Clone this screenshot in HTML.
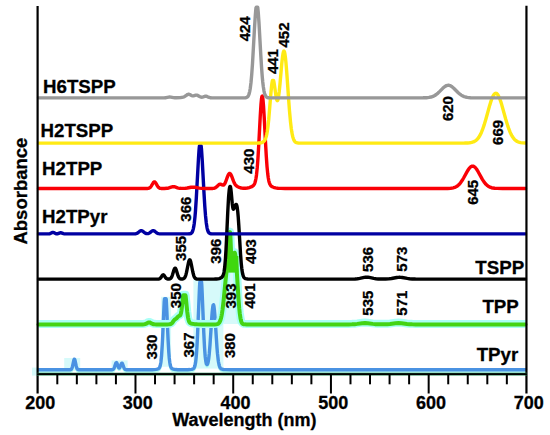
<!DOCTYPE html>
<html><head><meta charset="utf-8"><style>
html,body{margin:0;padding:0;background:#fff;width:550px;height:435px;overflow:hidden}
svg{position:absolute;left:0;top:0}
text{font-family:"Liberation Sans",sans-serif;font-weight:bold;fill:#000;stroke:#000;stroke-width:0.3px}
.tl{font-size:18px}
.pl{font-size:15px}
.nl{font-size:18.7px}
.ax{font-size:18px}
</style></head><body>
<svg width="550" height="435" viewBox="0 0 550 435">
<rect x="161.1" y="296.8" width="10.0" height="70.0" fill="#d6fafa"/>
<rect x="193.4" y="279.6" width="30.0" height="89.0" fill="#d6fafa"/>
<rect x="223.4" y="262.0" width="18.0" height="62.0" fill="#d6fafa"/>
<rect x="111.6" y="360.4" width="16.0" height="9.0" fill="#d6fafa"/>
<rect x="64.2" y="358.0" width="16.0" height="13.0" fill="#d6fafa"/>
<rect x="32.0" y="367.6" width="7.0" height="8.0" fill="#d6fafa"/>
<path d="M38.50 369.75 L69.00 369.75 L70.00 369.73 L70.75 369.60 L71.25 369.31 L71.50 369.03 L72.00 368.07 L72.50 366.41 L73.75 360.49 L74.00 359.68 L74.25 359.23 L74.50 359.18 L74.75 359.56 L75.00 360.30 L76.25 366.20 L76.75 367.94 L77.00 368.53 L77.50 369.26 L78.00 369.58 L78.50 369.70 L80.00 369.75 L110.00 369.75 L112.25 369.69 L113.00 369.45 L113.50 369.03 L113.75 368.70 L114.00 368.27 L114.50 367.08 L115.75 363.34 L116.00 362.86 L116.25 362.59 L116.50 362.57 L116.75 362.78 L117.00 363.22 L118.00 366.08 L118.50 367.33 L118.75 367.73 L119.00 367.97 L119.25 368.01 L119.50 367.88 L119.75 367.56 L120.25 366.50 L121.25 363.86 L121.50 363.43 L121.75 363.19 L122.00 363.17 L122.25 363.37 L122.50 363.77 L123.75 367.17 L124.25 368.30 L124.50 368.72 L124.75 369.04 L125.25 369.45 L126.00 369.68 L128.00 369.75 L152.25 369.71 L154.25 369.60 L156.00 369.39 L157.25 369.13 L158.25 368.76 L159.00 368.21 L159.50 367.53 L160.00 366.36 L160.25 365.49 L160.75 362.96 L161.00 361.17 L161.50 356.27 L162.25 345.00 L162.75 334.87 L164.00 306.02 L164.25 301.09 L164.50 298.70 L166.00 298.70 L166.25 299.32 L166.75 309.26 L168.00 338.10 L168.75 351.62 L169.25 357.94 L169.75 362.29 L170.25 365.08 L170.75 366.78 L171.00 367.34 L171.50 368.10 L172.25 368.71 L173.00 369.02 L173.75 369.23 L176.00 369.57 L177.75 369.68 L180.25 369.74 L187.75 369.68 L189.75 369.57 L191.25 369.41 L192.25 369.21 L193.00 368.94 L193.50 368.60 L193.75 368.35 L194.25 367.61 L194.75 366.36 L195.00 365.46 L195.50 362.89 L195.75 361.12 L196.25 356.37 L196.50 353.30 L197.00 345.61 L197.50 335.82 L199.50 287.62 L199.75 283.02 L200.00 281.60 L201.50 281.60 L201.75 284.67 L202.25 295.12 L203.75 332.19 L204.50 346.85 L204.75 350.68 L205.25 356.74 L205.75 360.86 L206.25 363.35 L206.50 364.07 L206.75 364.49 L207.00 364.62 L207.25 364.49 L207.50 364.11 L207.75 363.46 L208.00 362.55 L208.25 361.37 L208.75 358.15 L209.25 353.69 L210.00 344.70 L211.75 317.94 L212.25 311.50 L212.75 306.93 L213.00 305.53 L213.25 304.79 L213.50 304.73 L213.75 305.35 L214.00 306.64 L214.50 311.03 L215.00 317.37 L217.00 347.74 L217.50 353.67 L218.25 360.32 L218.50 361.97 L219.00 364.54 L219.25 365.51 L219.75 366.95 L220.25 367.89 L220.75 368.49 L221.50 369.00 L222.25 369.26 L223.50 369.48 L225.50 369.64 L231.75 369.75 L525.50 369.75" stroke="#b4fff0" stroke-width="3" fill="none" stroke-linejoin="round" transform="translate(0 1.6)"/>
<path d="M38.50 369.75 L69.00 369.75 L70.00 369.73 L70.75 369.60 L71.25 369.31 L71.50 369.03 L72.00 368.07 L72.50 366.41 L73.75 360.49 L74.00 359.68 L74.25 359.23 L74.50 359.18 L74.75 359.56 L75.00 360.30 L76.25 366.20 L76.75 367.94 L77.00 368.53 L77.50 369.26 L78.00 369.58 L78.50 369.70 L80.00 369.75 L110.00 369.75 L112.25 369.69 L113.00 369.45 L113.50 369.03 L113.75 368.70 L114.00 368.27 L114.50 367.08 L115.75 363.34 L116.00 362.86 L116.25 362.59 L116.50 362.57 L116.75 362.78 L117.00 363.22 L118.00 366.08 L118.50 367.33 L118.75 367.73 L119.00 367.97 L119.25 368.01 L119.50 367.88 L119.75 367.56 L120.25 366.50 L121.25 363.86 L121.50 363.43 L121.75 363.19 L122.00 363.17 L122.25 363.37 L122.50 363.77 L123.75 367.17 L124.25 368.30 L124.50 368.72 L124.75 369.04 L125.25 369.45 L126.00 369.68 L128.00 369.75 L152.25 369.71 L154.25 369.60 L156.00 369.39 L157.25 369.13 L158.25 368.76 L159.00 368.21 L159.50 367.53 L160.00 366.36 L160.25 365.49 L160.75 362.96 L161.00 361.17 L161.50 356.27 L162.25 345.00 L162.75 334.87 L164.00 306.02 L164.25 301.09 L164.50 298.70 L166.00 298.70 L166.25 299.32 L166.75 309.26 L168.00 338.10 L168.75 351.62 L169.25 357.94 L169.75 362.29 L170.25 365.08 L170.75 366.78 L171.00 367.34 L171.50 368.10 L172.25 368.71 L173.00 369.02 L173.75 369.23 L176.00 369.57 L177.75 369.68 L180.25 369.74 L187.75 369.68 L189.75 369.57 L191.25 369.41 L192.25 369.21 L193.00 368.94 L193.50 368.60 L193.75 368.35 L194.25 367.61 L194.75 366.36 L195.00 365.46 L195.50 362.89 L195.75 361.12 L196.25 356.37 L196.50 353.30 L197.00 345.61 L197.50 335.82 L199.50 287.62 L199.75 283.02 L200.00 281.60 L201.50 281.60 L201.75 284.67 L202.25 295.12 L203.75 332.19 L204.50 346.85 L204.75 350.68 L205.25 356.74 L205.75 360.86 L206.25 363.35 L206.50 364.07 L206.75 364.49 L207.00 364.62 L207.25 364.49 L207.50 364.11 L207.75 363.46 L208.00 362.55 L208.25 361.37 L208.75 358.15 L209.25 353.69 L210.00 344.70 L211.75 317.94 L212.25 311.50 L212.75 306.93 L213.00 305.53 L213.25 304.79 L213.50 304.73 L213.75 305.35 L214.00 306.64 L214.50 311.03 L215.00 317.37 L217.00 347.74 L217.50 353.67 L218.25 360.32 L218.50 361.97 L219.00 364.54 L219.25 365.51 L219.75 366.95 L220.25 367.89 L220.75 368.49 L221.50 369.00 L222.25 369.26 L223.50 369.48 L225.50 369.64 L231.75 369.75 L525.50 369.75" stroke="#4a92e2" stroke-width="3.4" fill="none" stroke-linejoin="round" stroke-linecap="round"/>
<path d="M38.50 324.40 L142.75 324.39 L144.25 324.31 L145.25 324.12 L146.25 323.73 L148.25 322.61 L148.75 322.45 L149.25 322.40 L149.75 322.47 L150.25 322.66 L152.00 323.65 L152.75 323.99 L153.50 324.20 L154.50 324.34 L156.50 324.40 L167.25 324.39 L169.00 324.36 L170.00 324.25 L170.50 324.13 L171.00 323.91 L171.75 323.36 L172.50 322.50 L173.75 320.69 L174.50 319.80 L175.00 319.38 L176.00 318.77 L176.50 318.39 L178.00 316.69 L178.50 316.24 L179.00 315.98 L179.75 315.70 L180.00 315.52 L180.25 315.21 L180.50 314.72 L181.00 313.07 L181.50 310.30 L182.00 306.42 L183.00 296.89 L183.25 295.30 L185.50 295.30 L185.75 296.83 L187.25 311.99 L188.00 317.37 L188.50 319.75 L189.00 321.33 L189.50 322.31 L190.00 322.90 L190.75 323.38 L191.50 323.64 L192.25 323.81 L194.50 324.14 L197.25 324.33 L201.75 324.40 L214.50 324.39 L216.50 324.27 L217.25 324.11 L217.75 323.94 L218.50 323.48 L219.25 322.68 L220.00 321.34 L220.50 320.03 L221.00 318.30 L221.50 316.09 L222.00 313.32 L222.50 309.98 L223.50 301.57 L225.50 280.94 L226.25 274.02 L227.00 268.78 L228.00 263.95 L228.25 262.15 L228.50 259.42 L228.75 255.41 L229.50 238.01 L229.75 233.67 L230.00 232.14 L230.25 233.94 L230.50 238.66 L231.25 257.47 L231.50 261.48 L231.75 263.72 L232.00 264.45 L232.25 264.09 L232.75 261.57 L233.75 255.19 L234.00 254.02 L234.25 253.18 L234.50 252.76 L234.75 252.80 L235.00 253.35 L235.25 254.43 L235.75 258.17 L236.25 263.85 L236.75 271.01 L238.50 298.96 L239.25 308.41 L239.75 313.24 L240.50 318.36 L240.75 319.58 L241.25 321.41 L241.75 322.62 L242.25 323.39 L242.75 323.84 L243.50 324.19 L244.50 324.35 L246.75 324.40 L348.75 324.38 L352.00 324.31 L354.75 324.15 L357.25 323.88 L362.25 323.16 L365.00 323.00 L367.75 323.16 L372.75 323.88 L375.00 324.13 L377.50 324.29 L380.25 324.36 L384.00 324.33 L387.25 324.18 L390.00 323.92 L395.50 323.25 L398.50 323.10 L401.50 323.25 L407.00 323.92 L409.50 324.16 L412.25 324.31 L415.75 324.38 L525.50 324.40" stroke="#aafff6" stroke-width="8" fill="none" stroke-linejoin="round" transform="translate(0 -0.5)"/>
<path d="M38.50 324.40 L142.75 324.39 L144.25 324.31 L145.25 324.12 L146.25 323.73 L148.25 322.61 L148.75 322.45 L149.25 322.40 L149.75 322.47 L150.25 322.66 L152.00 323.65 L152.75 323.99 L153.50 324.20 L154.50 324.34 L156.50 324.40 L167.25 324.39 L169.00 324.36 L170.00 324.25 L170.50 324.13 L171.00 323.91 L171.75 323.36 L172.50 322.50 L173.75 320.69 L174.50 319.80 L175.00 319.38 L176.00 318.77 L176.50 318.39 L178.00 316.69 L178.50 316.24 L179.00 315.98 L179.75 315.70 L180.00 315.52 L180.25 315.21 L180.50 314.72 L181.00 313.07 L181.50 310.30 L182.00 306.42 L183.00 296.89 L183.25 295.30 L185.50 295.30 L185.75 296.83 L187.25 311.99 L188.00 317.37 L188.50 319.75 L189.00 321.33 L189.50 322.31 L190.00 322.90 L190.75 323.38 L191.50 323.64 L192.25 323.81 L194.50 324.14 L197.25 324.33 L201.75 324.40 L214.50 324.39 L216.50 324.27 L217.25 324.11 L217.75 323.94 L218.50 323.48 L219.25 322.68 L220.00 321.34 L220.50 320.03 L221.00 318.30 L221.50 316.09 L222.00 313.32 L222.50 309.98 L223.50 301.57 L225.50 280.94 L226.25 274.02 L227.00 268.78 L228.00 263.95 L228.25 262.15 L228.50 259.42 L228.75 255.41 L229.50 238.01 L229.75 233.67 L230.00 232.14 L230.25 233.94 L230.50 238.66 L231.25 257.47 L231.50 261.48 L231.75 263.72 L232.00 264.45 L232.25 264.09 L232.75 261.57 L233.75 255.19 L234.00 254.02 L234.25 253.18 L234.50 252.76 L234.75 252.80 L235.00 253.35 L235.25 254.43 L235.75 258.17 L236.25 263.85 L236.75 271.01 L238.50 298.96 L239.25 308.41 L239.75 313.24 L240.50 318.36 L240.75 319.58 L241.25 321.41 L241.75 322.62 L242.25 323.39 L242.75 323.84 L243.50 324.19 L244.50 324.35 L246.75 324.40 L348.75 324.38 L352.00 324.31 L354.75 324.15 L357.25 323.88 L362.25 323.16 L365.00 323.00 L367.75 323.16 L372.75 323.88 L375.00 324.13 L377.50 324.29 L380.25 324.36 L384.00 324.33 L387.25 324.18 L390.00 323.92 L395.50 323.25 L398.50 323.10 L401.50 323.25 L407.00 323.92 L409.50 324.16 L412.25 324.31 L415.75 324.38 L525.50 324.40" stroke="#44d414" stroke-width="4.0" fill="none" stroke-linejoin="round" stroke-linecap="round"/>
<rect x="228.2" y="256" width="10.2" height="16.6" fill="#3fd80e"/>
<path d="M38.50 279.10 L157.75 279.09 L159.00 278.96 L159.50 278.80 L160.00 278.52 L160.75 277.77 L162.00 275.85 L162.50 275.19 L163.00 274.83 L163.25 274.80 L163.50 274.87 L164.00 275.31 L165.50 277.57 L166.00 278.17 L166.50 278.59 L167.00 278.84 L167.50 278.98 L168.25 279.05 L169.00 279.03 L169.75 278.89 L170.50 278.51 L171.00 278.03 L171.50 277.27 L172.00 276.19 L172.50 274.79 L174.00 269.80 L174.50 268.64 L174.75 268.29 L175.00 268.12 L175.25 268.13 L175.50 268.34 L176.00 269.27 L176.50 270.72 L178.00 275.67 L178.50 276.88 L179.00 277.76 L179.50 278.35 L180.25 278.82 L181.25 279.03 L182.50 279.00 L183.00 278.91 L183.50 278.74 L184.25 278.20 L184.75 277.56 L185.00 277.13 L185.50 275.98 L186.00 274.41 L186.50 272.40 L188.50 262.47 L189.00 260.75 L189.25 260.20 L189.50 259.88 L189.75 259.80 L190.00 259.98 L190.25 260.39 L190.75 261.88 L191.25 264.04 L192.75 271.72 L193.25 273.85 L193.75 275.55 L194.25 276.83 L194.75 277.72 L195.25 278.30 L195.75 278.66 L196.25 278.87 L196.75 278.99 L198.25 279.09 L214.50 279.07 L216.50 278.99 L218.00 278.82 L219.25 278.56 L220.50 278.09 L221.50 277.48 L222.25 276.73 L222.75 275.98 L223.25 274.86 L223.75 273.17 L224.00 272.01 L224.50 268.88 L224.75 266.80 L225.50 258.04 L226.00 249.87 L226.50 239.96 L227.75 212.06 L228.50 198.29 L228.75 194.83 L229.25 189.74 L229.50 188.07 L229.75 186.94 L230.00 186.37 L230.25 186.38 L230.50 186.99 L230.75 188.25 L231.25 192.51 L232.25 203.65 L232.75 207.39 L233.00 208.46 L233.25 209.03 L233.50 209.18 L233.75 209.01 L234.25 208.05 L235.25 205.48 L235.75 204.61 L236.00 204.41 L236.25 204.43 L236.50 204.72 L236.75 205.32 L237.00 206.28 L237.25 207.63 L237.75 211.62 L238.25 217.33 L238.75 224.54 L240.50 253.49 L241.25 263.30 L241.75 268.19 L242.00 270.14 L242.50 273.19 L242.75 274.34 L243.25 276.04 L243.75 277.13 L244.25 277.82 L244.75 278.25 L245.50 278.62 L246.50 278.86 L247.75 278.99 L252.00 279.10 L351.75 279.08 L355.00 278.98 L357.50 278.76 L359.75 278.40 L364.25 277.43 L365.50 277.26 L366.75 277.20 L368.00 277.25 L369.25 277.41 L373.75 278.38 L376.00 278.75 L378.25 278.96 L381.25 279.06 L385.50 279.03 L388.75 278.83 L391.50 278.48 L396.75 277.51 L398.25 277.35 L399.50 277.30 L400.75 277.35 L402.25 277.51 L407.25 278.43 L409.50 278.76 L412.25 278.98 L415.50 279.07 L525.50 279.10" stroke="#000000" stroke-width="3.4" fill="none" stroke-linejoin="round" stroke-linecap="round"/>
<path d="M38.50 233.90 L47.50 233.90 L49.00 233.85 L49.75 233.73 L50.25 233.58 L52.25 232.53 L53.00 232.40 L53.75 232.62 L55.50 233.56 L56.00 233.71 L56.75 233.81 L57.50 233.76 L58.00 233.66 L60.00 232.82 L60.75 232.70 L61.50 232.86 L62.75 233.43 L63.50 233.69 L64.25 233.83 L65.50 233.89 L134.00 233.88 L135.75 233.72 L136.50 233.53 L137.00 233.33 L138.00 232.72 L139.75 231.27 L140.25 230.93 L140.75 230.69 L141.25 230.60 L141.75 230.66 L142.50 231.02 L144.50 232.64 L145.25 233.14 L146.00 233.47 L147.00 233.66 L148.00 233.60 L149.00 233.26 L150.00 232.64 L152.00 231.02 L152.75 230.66 L153.25 230.60 L153.75 230.69 L154.25 230.93 L154.75 231.27 L156.50 232.72 L157.50 233.33 L158.50 233.67 L159.75 233.84 L162.50 233.90 L188.00 233.89 L189.75 233.78 L190.50 233.60 L191.00 233.36 L191.75 232.71 L192.25 231.95 L192.75 230.80 L193.25 229.11 L193.75 226.72 L194.25 223.46 L195.00 216.58 L195.50 210.52 L196.25 199.20 L198.50 158.02 L199.00 150.69 L199.25 147.74 L199.50 145.60 L201.00 145.60 L201.25 146.71 L201.50 149.45 L202.25 160.52 L204.00 193.13 L204.75 205.55 L205.50 215.47 L206.25 222.69 L207.00 227.52 L207.25 228.69 L207.75 230.51 L208.25 231.75 L208.75 232.58 L209.00 232.88 L209.50 233.30 L210.25 233.64 L211.00 233.80 L211.75 233.86 L214.50 233.90 L525.50 233.90" stroke="#0000a2" stroke-width="3.4" fill="none" stroke-linejoin="round" stroke-linecap="round"/>
<path d="M38.50 188.50 L147.25 188.47 L148.25 188.37 L149.00 188.18 L149.75 187.79 L150.25 187.39 L150.75 186.83 L151.25 186.13 L153.25 182.74 L153.75 182.18 L154.00 182.01 L154.25 181.92 L154.50 181.91 L155.00 182.14 L155.50 182.68 L156.00 183.43 L157.50 186.05 L158.00 186.77 L158.50 187.34 L159.00 187.76 L159.50 188.05 L160.25 188.31 L161.00 188.43 L164.25 188.48 L167.00 188.32 L168.75 187.96 L172.00 186.89 L172.75 186.74 L173.50 186.70 L174.25 186.77 L175.00 186.94 L177.50 187.79 L178.50 188.07 L179.75 188.30 L181.00 188.41 L183.25 188.42 L185.50 188.26 L187.25 188.00 L191.00 187.26 L193.00 187.10 L194.75 187.23 L199.25 188.09 L201.75 188.37 L206.00 188.49 L211.00 188.49 L212.75 188.44 L214.25 188.20 L215.00 187.93 L215.50 187.67 L216.50 186.92 L218.50 184.98 L219.00 184.59 L219.50 184.33 L220.00 184.21 L220.50 184.23 L221.00 184.38 L222.25 184.95 L223.00 185.12 L223.50 185.03 L224.00 184.71 L224.50 184.13 L224.75 183.75 L225.50 182.23 L227.50 176.70 L228.25 174.89 L228.75 174.03 L229.00 173.72 L229.25 173.52 L229.50 173.41 L229.75 173.40 L230.00 173.49 L230.50 173.96 L231.25 175.28 L231.75 176.47 L233.50 181.15 L234.25 182.85 L234.75 183.80 L235.25 184.58 L236.00 185.48 L236.50 185.93 L237.25 186.46 L238.50 187.11 L240.25 187.76 L241.75 188.12 L243.25 188.28 L245.25 188.24 L247.25 188.01 L249.25 187.57 L251.00 186.98 L252.25 186.36 L253.25 185.62 L254.00 184.72 L254.50 183.82 L255.00 182.56 L255.50 180.77 L256.00 178.28 L256.50 174.88 L257.25 167.69 L258.00 157.65 L258.75 144.89 L260.25 116.03 L261.00 104.18 L261.50 98.87 L261.75 97.19 L262.00 96.24 L262.25 96.03 L262.50 96.57 L262.75 97.84 L263.00 99.82 L263.50 105.67 L264.25 118.07 L265.50 142.41 L266.25 155.67 L267.00 166.33 L267.75 174.09 L268.25 177.81 L268.75 180.55 L269.25 182.53 L269.75 183.93 L270.50 185.28 L271.25 186.10 L272.25 186.77 L273.50 187.30 L275.50 187.85 L278.00 188.23 L280.75 188.41 L285.00 188.49 L441.50 188.50 L447.50 188.44 L450.75 188.25 L452.00 188.08 L453.25 187.83 L454.50 187.46 L455.50 187.06 L456.50 186.53 L457.25 186.04 L458.25 185.26 L459.00 184.55 L460.50 182.83 L462.25 180.30 L463.75 177.76 L467.25 171.38 L468.25 169.74 L469.00 168.66 L470.00 167.48 L470.75 166.81 L471.25 166.48 L471.75 166.25 L472.50 166.10 L473.25 166.19 L473.75 166.38 L474.25 166.66 L475.25 167.53 L476.25 168.73 L477.00 169.82 L478.00 171.46 L482.50 179.57 L484.00 181.88 L485.25 183.51 L486.25 184.60 L487.50 185.71 L488.75 186.56 L490.00 187.19 L491.50 187.72 L493.00 188.05 L494.75 188.28 L497.00 188.42 L502.50 188.49 L525.50 188.50" stroke="#fa0006" stroke-width="3.4" fill="none" stroke-linejoin="round" stroke-linecap="round"/>
<path d="M38.50 143.10 L255.00 143.10 L257.75 143.07 L259.50 142.99 L261.00 142.78 L262.00 142.51 L263.00 142.04 L263.75 141.47 L264.50 140.62 L265.25 139.32 L265.75 138.10 L266.25 136.50 L266.75 134.40 L267.25 131.71 L268.00 126.33 L268.75 119.22 L270.75 94.87 L271.50 86.76 L272.00 82.77 L272.25 81.32 L272.50 80.40 L273.50 80.40 L273.75 81.07 L274.00 82.30 L274.50 85.46 L276.00 96.35 L276.50 98.93 L276.75 99.81 L277.00 100.40 L277.25 100.67 L277.50 100.61 L277.75 100.22 L278.00 99.50 L278.50 97.10 L279.25 91.38 L280.00 83.75 L281.75 63.86 L282.50 56.99 L283.00 53.68 L283.25 52.50 L283.50 51.66 L283.75 51.18 L284.00 51.07 L284.25 51.33 L284.50 51.97 L285.00 54.36 L285.50 58.12 L286.00 63.10 L286.75 72.35 L288.75 100.98 L289.50 110.83 L290.50 121.83 L291.25 128.24 L291.75 131.65 L292.25 134.43 L292.75 136.65 L293.50 139.10 L294.00 140.25 L294.75 141.45 L295.50 142.18 L296.00 142.49 L296.50 142.70 L297.25 142.90 L298.25 143.02 L301.50 143.10 L459.50 143.10 L464.50 143.07 L467.50 142.97 L469.75 142.78 L471.75 142.42 L473.25 141.96 L474.50 141.39 L475.75 140.59 L476.75 139.75 L477.75 138.68 L478.75 137.37 L479.75 135.77 L480.75 133.86 L481.50 132.21 L482.50 129.73 L484.25 124.63 L486.00 118.72 L489.75 105.17 L490.75 101.90 L491.75 99.02 L492.75 96.63 L493.75 94.83 L494.25 94.18 L494.75 93.71 L495.25 93.41 L495.75 93.30 L496.25 93.37 L496.75 93.63 L497.25 94.07 L497.75 94.69 L498.25 95.47 L498.75 96.42 L499.75 98.76 L500.75 101.60 L501.75 104.83 L505.75 119.25 L507.75 125.88 L509.00 129.47 L510.00 131.98 L511.00 134.16 L512.00 136.03 L513.25 137.93 L514.50 139.40 L515.75 140.52 L517.25 141.47 L518.75 142.11 L520.50 142.57 L522.75 142.88 L525.50 143.03" stroke="#ffea14" stroke-width="3.4" fill="none" stroke-linejoin="round" stroke-linecap="round"/>
<path d="M38.50 97.85 L163.25 97.84 L164.75 97.81 L166.00 97.71 L168.75 97.14 L169.75 97.03 L170.75 97.10 L173.50 97.63 L174.75 97.72 L176.25 97.71 L180.75 97.52 L182.00 97.39 L183.00 97.20 L184.00 96.85 L184.75 96.45 L186.75 95.02 L187.50 94.55 L188.25 94.29 L188.75 94.25 L189.25 94.33 L189.75 94.51 L191.50 95.49 L192.50 95.86 L193.00 95.91 L193.50 95.87 L195.75 95.18 L196.25 95.10 L196.75 95.12 L197.25 95.23 L197.75 95.42 L200.00 96.71 L200.75 97.02 L201.25 97.15 L201.75 97.21 L202.50 97.15 L203.25 96.94 L205.00 96.26 L205.50 96.17 L206.00 96.18 L207.00 96.45 L208.50 97.17 L209.25 97.46 L210.25 97.69 L211.25 97.79 L215.50 97.85 L243.50 97.84 L245.50 97.74 L246.25 97.59 L246.75 97.41 L247.50 96.90 L248.00 96.32 L248.25 95.93 L248.75 94.88 L249.25 93.38 L249.75 91.27 L250.25 88.43 L251.00 82.48 L251.75 74.20 L252.50 63.52 L254.50 28.19 L255.25 16.26 L255.75 10.10 L256.00 7.73 L256.25 7.30 L257.75 7.32 L258.25 12.35 L259.00 23.12 L260.75 54.38 L261.50 66.59 L262.25 76.65 L262.75 82.01 L263.25 86.32 L264.00 91.03 L264.50 93.19 L265.00 94.76 L265.50 95.85 L266.00 96.59 L266.75 97.25 L267.50 97.58 L268.25 97.73 L269.00 97.80 L272.25 97.85 L417.25 97.85 L423.00 97.81 L426.50 97.69 L429.00 97.43 L431.00 97.03 L433.00 96.36 L434.75 95.49 L436.25 94.50 L438.00 93.07 L439.50 91.64 L442.75 88.34 L444.50 86.81 L445.50 86.12 L446.50 85.62 L447.50 85.32 L448.25 85.25 L449.00 85.31 L450.00 85.58 L451.00 86.06 L452.00 86.73 L453.75 88.24 L458.50 92.98 L460.00 94.24 L461.25 95.13 L462.50 95.85 L464.00 96.52 L465.50 97.00 L467.25 97.38 L468.75 97.57 L470.50 97.71 L475.25 97.83 L525.50 97.85" stroke="#989898" stroke-width="3.4" fill="none" stroke-linejoin="round" stroke-linecap="round"/>
<line x1="37.6" y1="6" x2="37.6" y2="393.5" stroke="#000" stroke-width="2.2"/>
<line x1="526.45" y1="5.8" x2="526.45" y2="393.5" stroke="#000" stroke-width="2.2"/>
<line x1="37" y1="374.1" x2="527" y2="374.1" stroke="#1a7a48" stroke-width="2.8"/>
<line x1="37" y1="374.1" x2="527" y2="374.1" stroke="#000" stroke-width="1.6"/>
<line x1="57.30" y1="374" x2="57.30" y2="384.3" stroke="#000" stroke-width="2"/>
<line x1="76.84" y1="374" x2="76.84" y2="384.3" stroke="#000" stroke-width="2"/>
<line x1="96.39" y1="374" x2="96.39" y2="384.3" stroke="#000" stroke-width="2"/>
<line x1="115.93" y1="374" x2="115.93" y2="384.3" stroke="#000" stroke-width="2"/>
<line x1="135.48" y1="374" x2="135.48" y2="393.5" stroke="#000" stroke-width="2"/>
<line x1="155.03" y1="374" x2="155.03" y2="384.3" stroke="#000" stroke-width="2"/>
<line x1="174.57" y1="374" x2="174.57" y2="384.3" stroke="#000" stroke-width="2"/>
<line x1="194.12" y1="374" x2="194.12" y2="384.3" stroke="#000" stroke-width="2"/>
<line x1="213.66" y1="374" x2="213.66" y2="384.3" stroke="#000" stroke-width="2"/>
<line x1="233.21" y1="374" x2="233.21" y2="393.5" stroke="#000" stroke-width="2"/>
<line x1="252.76" y1="374" x2="252.76" y2="384.3" stroke="#000" stroke-width="2"/>
<line x1="272.30" y1="374" x2="272.30" y2="384.3" stroke="#000" stroke-width="2"/>
<line x1="291.85" y1="374" x2="291.85" y2="384.3" stroke="#000" stroke-width="2"/>
<line x1="311.39" y1="374" x2="311.39" y2="384.3" stroke="#000" stroke-width="2"/>
<line x1="330.94" y1="374" x2="330.94" y2="393.5" stroke="#000" stroke-width="2"/>
<line x1="350.49" y1="374" x2="350.49" y2="384.3" stroke="#000" stroke-width="2"/>
<line x1="370.03" y1="374" x2="370.03" y2="384.3" stroke="#000" stroke-width="2"/>
<line x1="389.58" y1="374" x2="389.58" y2="384.3" stroke="#000" stroke-width="2"/>
<line x1="409.12" y1="374" x2="409.12" y2="384.3" stroke="#000" stroke-width="2"/>
<line x1="428.67" y1="374" x2="428.67" y2="393.5" stroke="#000" stroke-width="2"/>
<line x1="448.22" y1="374" x2="448.22" y2="384.3" stroke="#000" stroke-width="2"/>
<line x1="467.76" y1="374" x2="467.76" y2="384.3" stroke="#000" stroke-width="2"/>
<line x1="487.31" y1="374" x2="487.31" y2="384.3" stroke="#000" stroke-width="2"/>
<line x1="506.85" y1="374" x2="506.85" y2="384.3" stroke="#000" stroke-width="2"/>
<text x="40.15" y="409.2" text-anchor="middle" class="tl">200</text>
<text x="137.88" y="409.2" text-anchor="middle" class="tl">300</text>
<text x="235.61" y="409.2" text-anchor="middle" class="tl">400</text>
<text x="333.34" y="409.2" text-anchor="middle" class="tl">500</text>
<text x="431.07" y="409.2" text-anchor="middle" class="tl">600</text>
<text x="528.80" y="409.2" text-anchor="middle" class="tl">700</text>
<text transform="translate(244.40 28.80) rotate(-90)" x="0" y="5.37" text-anchor="middle" class="pl">424</text>
<text transform="translate(272.40 61.60) rotate(-90)" x="0" y="5.37" text-anchor="middle" class="pl">441</text>
<text transform="translate(283.50 35.00) rotate(-90)" x="0" y="5.37" text-anchor="middle" class="pl">452</text>
<text transform="translate(448.00 108.60) rotate(-90)" x="0" y="5.37" text-anchor="middle" class="pl">620</text>
<text transform="translate(498.10 132.40) rotate(-90)" x="0" y="5.37" text-anchor="middle" class="pl">669</text>
<text transform="translate(248.60 161.20) rotate(-90)" x="0" y="5.37" text-anchor="middle" class="pl">430</text>
<text transform="translate(472.20 192.30) rotate(-90)" x="0" y="5.37" text-anchor="middle" class="pl">645</text>
<text transform="translate(186.00 209.20) rotate(-90)" x="0" y="5.37" text-anchor="middle" class="pl">366</text>
<text transform="translate(180.80 248.40) rotate(-90)" x="0" y="5.37" text-anchor="middle" class="pl">355</text>
<text transform="translate(215.80 251.20) rotate(-90)" x="0" y="5.37" text-anchor="middle" class="pl">396</text>
<text transform="translate(250.50 251.60) rotate(-90)" x="0" y="5.37" text-anchor="middle" class="pl">403</text>
<text transform="translate(368.00 259.40) rotate(-90)" x="0" y="5.37" text-anchor="middle" class="pl">536</text>
<text transform="translate(402.10 259.20) rotate(-90)" x="0" y="5.37" text-anchor="middle" class="pl">573</text>
<text transform="translate(175.40 295.70) rotate(-90)" x="0" y="5.37" text-anchor="middle" class="pl">350</text>
<text transform="translate(230.80 296.00) rotate(-90)" x="0" y="5.37" text-anchor="middle" class="pl">393</text>
<text transform="translate(250.10 296.00) rotate(-90)" x="0" y="5.37" text-anchor="middle" class="pl">401</text>
<text transform="translate(367.60 303.20) rotate(-90)" x="0" y="5.37" text-anchor="middle" class="pl">535</text>
<text transform="translate(401.70 303.20) rotate(-90)" x="0" y="5.37" text-anchor="middle" class="pl">571</text>
<text transform="translate(151.50 347.10) rotate(-90)" x="0" y="5.37" text-anchor="middle" class="pl">330</text>
<text transform="translate(188.60 345.00) rotate(-90)" x="0" y="5.37" text-anchor="middle" class="pl">367</text>
<text transform="translate(229.40 345.60) rotate(-90)" x="0" y="5.37" text-anchor="middle" class="pl">380</text>
<text x="43.0" y="92.8" class="nl">H6TSPP</text>
<text x="40.5" y="136.7" class="nl">H2TSPP</text>
<text x="42.1" y="175.0" class="nl">H2TPP</text>
<text x="42.0" y="223.4" class="nl">H2TPyr</text>
<text x="524.1" y="273.5" class="nl" text-anchor="end">TSPP</text>
<text x="518.8" y="312.9" class="nl" text-anchor="end">TPP</text>
<text x="518.2" y="361.4" class="nl" text-anchor="end">TPyr</text>
<text x="172.2" y="426.3" class="ax">Wavelength (nm)</text>
<text transform="translate(27.4 191.1) rotate(-90)" x="0" y="0" text-anchor="middle" class="ax" style="font-size:18.5px">Absorbance</text>
</svg>
</body></html>
